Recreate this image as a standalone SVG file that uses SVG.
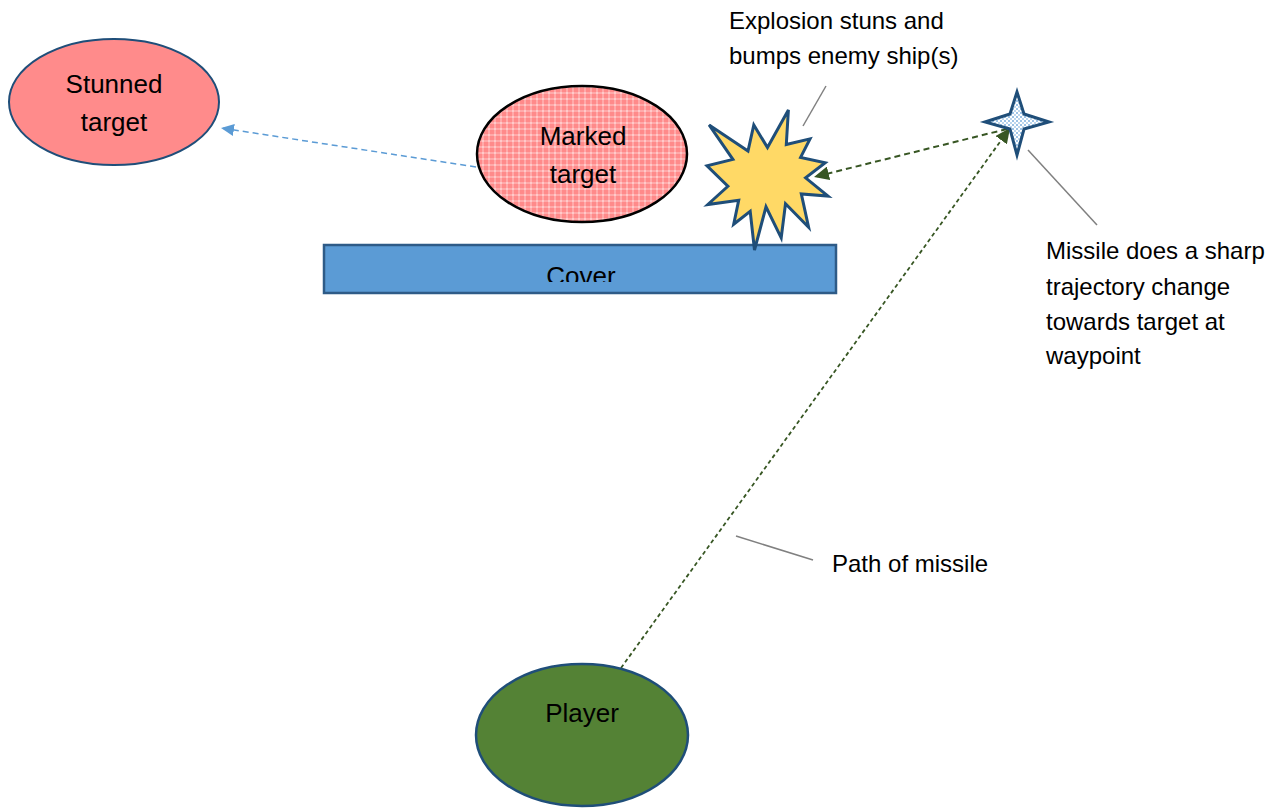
<svg xmlns="http://www.w3.org/2000/svg" width="1273" height="809" viewBox="0 0 1273 809">
<style>
text{font-family:"Liberation Sans",Arial,sans-serif;fill:#000}
.node{font-size:26px;text-anchor:middle}
.lbl{font-size:24px}
.callout{stroke:#808080;stroke-width:1.5;fill:none}
</style>
<defs>
<pattern id="pinkHatch" width="6" height="6" patternUnits="userSpaceOnUse">
<rect width="6" height="6" fill="#FF8A8A"/>
<path d="M0,3H6M3,0V6" stroke="#FFFFFF" stroke-width="1" stroke-opacity="0.55"/>
<rect x="2.5" y="2.5" width="1" height="1" fill="#FFFFFF" fill-opacity="0.6"/>
</pattern>
<pattern id="blueDots" width="4" height="4" patternUnits="userSpaceOnUse">
<rect width="4" height="4" fill="#FFFFFF"/>
<rect x="0" y="0" width="2" height="2" fill="#9DC3E6"/>
<rect x="2" y="2" width="2" height="2" fill="#BDD7EE"/>
</pattern>
<marker id="arrBlue" markerUnits="userSpaceOnUse" markerWidth="14" markerHeight="12" refX="13" refY="6" orient="auto">
<path d="M0,0L13,6L0,12z" fill="#5B9BD5"/>
</marker>
<marker id="arrGreen" markerUnits="userSpaceOnUse" markerWidth="16" markerHeight="14" refX="15" refY="7" orient="auto">
<path d="M0,0L15,7L0,14z" fill="#375623"/>
</marker>
<clipPath id="coverClip">
<rect x="324" y="246" width="512" height="36"/>
</clipPath>
</defs>

<g id="connectors">
<line x1="476" y1="167" x2="221" y2="128" stroke="#5B9BD5" stroke-width="1.5" stroke-dasharray="6 4" marker-end="url(#arrBlue)"/>
<line x1="1007" y1="129" x2="814" y2="177" stroke="#375623" stroke-width="2" stroke-dasharray="6 4" marker-end="url(#arrGreen)"/>
<line x1="621" y1="668" x2="1010" y2="128" stroke="#375623" stroke-width="1.8" stroke-dasharray="4 3" marker-end="url(#arrGreen)"/>
</g>

<g id="stunned-target">
<ellipse cx="114" cy="102" rx="105" ry="63" fill="#FF8B8B" stroke="#1F4E79" stroke-width="2"/>
<text class="node" x="114" y="93">Stunned</text>
<text class="node" x="114" y="131">target</text>
</g>

<g id="marked-target">
<ellipse cx="582" cy="154" rx="105" ry="68" fill="url(#pinkHatch)" stroke="#000" stroke-width="2.5"/>
<text class="node" x="583" y="145">Marked</text>
<text class="node" x="583" y="183">target</text>
</g>

<g id="cover">
<rect x="324" y="245" width="512" height="48" fill="#5B9BD5" stroke="#2E5B87" stroke-width="2.5"/>
<text class="node" x="581" y="285" clip-path="url(#coverClip)">Cover</text>
</g>

<g id="explosion">
<polygon points="767.5,147.6 788.4,110 786.3,144.5 810,138.9 800.6,157.4 825.2,162.7 805.6,177.9 828,196.1 801.3,193.9 808.6,227.3 785.5,203.7 781.2,237.9 766,206.8 754.5,250 750.2,211.3 733.7,224.2 738.7,200.3 707.8,204.5 727.9,186.3 707,165.8 732.9,159.4 709.1,124.9 748,151 753.8,124.9" fill="#FFD966" stroke="#1F4E79" stroke-width="3" stroke-linejoin="miter"/>
</g>

<g id="waypoint-star">
<polygon points="1017,92 1024,114 1049,122 1024,129 1017,155 1010,129 985,122 1010,114" fill="url(#blueDots)" stroke="#1F4E79" stroke-width="3"/>
</g>

<g id="player">
<ellipse cx="582" cy="735" rx="106" ry="71" fill="#548235" stroke="#1F4E79" stroke-width="2.5"/>
<text class="node" x="582" y="722">Player</text>
</g>

<g id="label-explosion">
<line class="callout" x1="826" y1="86" x2="803" y2="126"/>
<text class="lbl" x="729" y="29">Explosion stuns and</text>
<text class="lbl" x="729" y="64">bumps enemy ship(s)</text>
</g>

<g id="label-missile">
<line class="callout" x1="1028" y1="150" x2="1097" y2="225"/>
<text class="lbl" x="1046" y="259">Missile does a sharp</text>
<text class="lbl" x="1046" y="295">trajectory change</text>
<text class="lbl" x="1046" y="330">towards target at</text>
<text class="lbl" x="1046" y="364">waypoint</text>
</g>

<g id="label-path">
<line class="callout" x1="736" y1="536" x2="813" y2="560"/>
<text class="lbl" x="832" y="572">Path of missile</text>
</g>
</svg>
